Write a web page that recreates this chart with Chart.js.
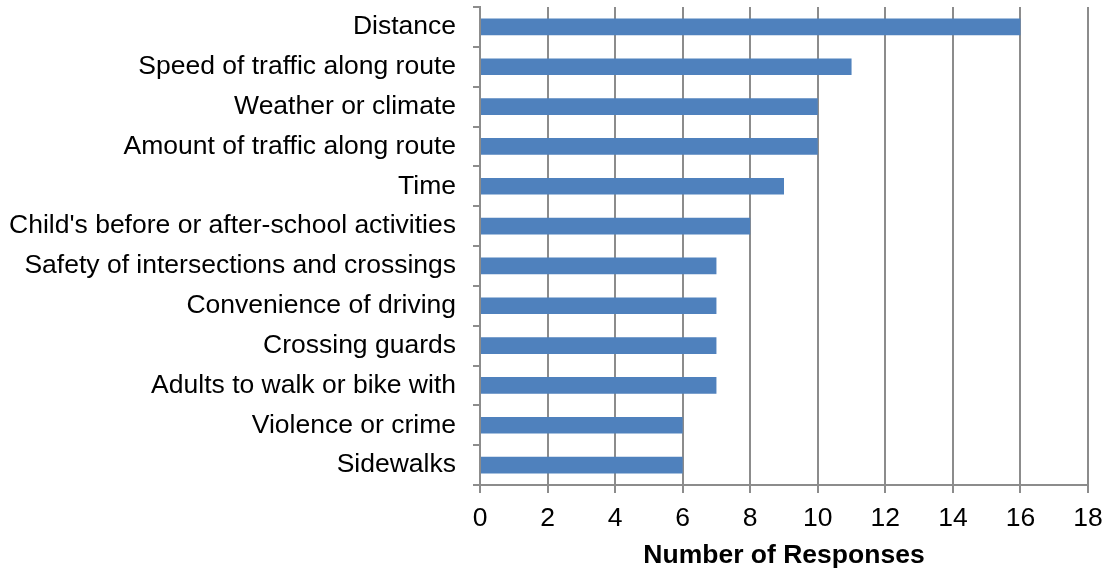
<!DOCTYPE html>
<html>
<head>
<meta charset="utf-8">
<script src="https://cdn.jsdelivr.net/npm/chart.js@4"></script>
<style>
  html, body { margin: 0; padding: 0; background: #fff; }
  #wrap { width: 1107px; height: 568px; }
</style>
</head>
<body>
<div id="wrap"><canvas id="myChart" width="1107" height="568"></canvas></div>
<script>
// survey answers, top to bottom
const factors = [
  "Distance",
  "Speed of traffic along route",
  "Weather or climate",
  "Amount of traffic along route",
  "Time",
  "Child's before or after-school activities",
  "Safety of intersections and crossings",
  "Convenience of driving",
  "Crossing guards",
  "Adults to walk or bike with",
  "Violence or crime",
  "Sidewalks"
];
const responses = [16, 11, 10, 10, 9, 8, 7, 7, 7, 7, 6, 6];
const xTicks = [0, 2, 4, 6, 8, 10, 12, 14, 16, 18];

const axisGray = "#8c8c8c";
const labelFont = { family: "'Liberation Sans', Arial, sans-serif", size: 26.5 };

var ctx = document.getElementById('myChart').getContext('2d');
var chart = new Chart(ctx, {
  type: 'bar',
  data: {
    labels: factors,
    datasets: [{
      data: responses,
      backgroundColor: "#4f81bd",
      borderWidth: 0,
      barPercentage: 0.42,
      categoryPercentage: 1
    }]
  },
  options: {
    indexAxis: 'y',
    responsive: false,
    animation: false,
    layout: { padding: { top: 7, right: 19, left: 0, bottom: 0 } },
    plugins: {
      legend: { display: false },
      tooltip: { enabled: false }
    },
    scales: {
      x: {
        min: 0,
        max: 18,
        afterBuildTicks: s => { s.ticks = xTicks.map(v => ({ value: v })); },
        afterFit: s => { s.height = 83; s.paddingLeft = 0; s.paddingRight = 0; },
        grid: { color: axisGray, lineWidth: 2, tickLength: 8 },
        border: { color: axisGray, width: 2 },
        ticks: { color: "#000", font: labelFont, padding: 10 },
        title: {
          display: true,
          text: "Number of Responses",
          color: "#000",
          font: { family: labelFont.family, size: 26.5, weight: 'bold' },
          padding: { top: 0, bottom: -4 }
        }
      },
      y: {
        afterFit: s => { s.width = 480; s.paddingTop = 0; s.paddingBottom = 0; },
        grid: { color: axisGray, lineWidth: 2, tickLength: 7, drawOnChartArea: false, offset: true },
        border: { color: axisGray, width: 2 },
        ticks: { color: "#000", font: labelFont, padding: 17, autoSkip: false }
      }
    }
  }
});
</script>
</body>
</html>
